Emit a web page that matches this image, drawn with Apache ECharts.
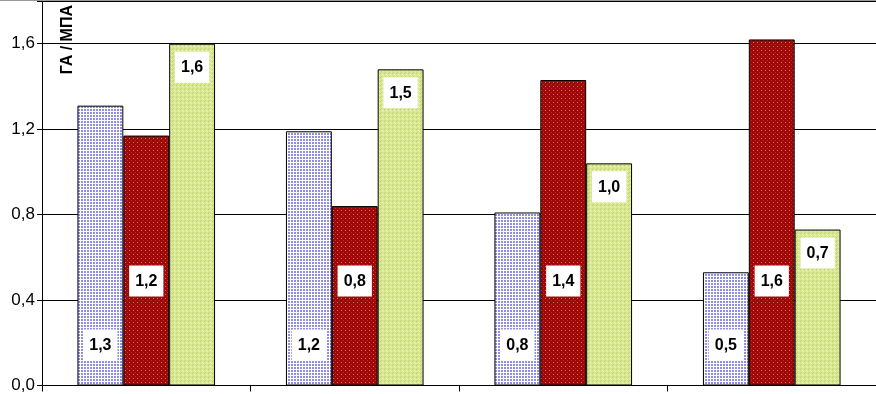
<!DOCTYPE html>
<html>
<head>
<meta charset="utf-8">
<script src="https://cdn.jsdelivr.net/npm/echarts@6/dist/echarts.min.js"></script>
<style>
    html, body { margin: 0; padding: 0; background: #fff; }
    #main { width: 876px; height: 394px; border-top: 1px solid #999; box-sizing: border-box; }
</style>
</head>
<body>
<div id="main"></div>
<script>
// данные
var categories = ['1', '2', '3', '4']
var seriesA = [1.31, 1.19, 0.81, 0.53]   // синие (клетка)
var seriesB = [1.17, 0.84, 1.43, 1.62]   // красные
var seriesC = [1.60, 1.48, 1.04, 0.73]   // салатовые
var yTicks = { min: 0, max: 1.8, interval: 0.4 }

/* маленькие плитки-заливки как в Excel */
function makeTile (size, bg, dots) {
    var c = document.createElement('canvas')
    c.width = size
    c.height = size
    var ctx = c.getContext('2d')
    ctx.fillStyle = bg
    ctx.fillRect(0, 0, size, size)
    for (var i = 0; i < dots.length; i++) {
        ctx.fillStyle = dots[i][2]
        ctx.fillRect(dots[i][0], dots[i][1], dots[i][3] || 1, dots[i][3] || 1)
    }
    return { image: c, repeat: 'repeat' }
}

var blueFill = makeTile(3, '#ffffff', [[0, 0, '#8e8ee8', 2]])
var redFill = makeTile(4, '#a00808', [[1, 1, '#d07070'], [3, 3, '#b42c2c']])
var greenFill = makeTile(4, '#d8e890', [[0, 0, '#b8cc68'], [2, 1, '#eef5c4'], [1, 3, '#c4d678'], [3, 2, '#e6f0b0']])

function fmt (p) {
    return p.value.toFixed(1).replace('.', ',')
}

function makeLabel (pos, dist) {
    return {
        show: true,
        position: pos,
        distance: dist,
        formatter: fmt,
        color: '#000',
        fontFamily: 'Liberation Sans, Arial',
        fontWeight: 'bold',
        fontSize: 16,
        backgroundColor: '#fff',
        padding: [8, 6, 7, 6]
    }
}

var myChart = echarts.init(document.getElementById('main'), null, { renderer: 'canvas' })

var option = {
    animation: false,
    grid: { left: 42, right: -4, top: -1, bottom: 7, containLabel: false },
    graphic: [{
        type: 'text',
        left: 60,
        top: 4,
        rotation: Math.PI / 2,
        style: {
            text: 'ГА / МПА',
            fill: '#000',
            font: 'bold 16px "Liberation Sans", Arial'
        }
    }],
    xAxis: {
        type: 'category',
        data: categories,
        axisLine: { lineStyle: { color: '#000', width: 1 } },
        axisTick: { show: true, length: 6, lineStyle: { color: '#000' } },
        axisLabel: { show: false },
        splitLine: { show: false }
    },
    yAxis: {
        type: 'value',
        min: yTicks.min,
        max: yTicks.max,
        interval: yTicks.interval,
        axisLine: { show: true, lineStyle: { color: '#000', width: 1 } },
        axisTick: { show: true, length: 5, lineStyle: { color: '#000' } },
        axisLabel: {
            margin: 7,
            color: '#000',
            fontFamily: 'Liberation Sans, Arial',
            fontSize: 17,
            formatter: function (v) {
                if (v > 1.7) return ''
                return v.toFixed(1).replace('.', ',')
            }
        },
        splitLine: { show: true, lineStyle: { color: '#000', width: 1 } }
    },
    series: [{
        type: 'bar',
        data: seriesA,
        barGap: '0%',
        barCategoryGap: '34%',
        itemStyle: { color: blueFill, borderColor: '#000', borderWidth: 1 },
        label: makeLabel('insideBottom', 25)
    }, {
        type: 'bar',
        data: seriesB,
        barGap: '0%',
        barCategoryGap: '34%',
        itemStyle: { color: redFill, borderColor: '#000', borderWidth: 1 },
        label: makeLabel('insideBottom', 89)
    }, {
        type: 'bar',
        data: seriesC,
        barGap: '0%',
        barCategoryGap: '34%',
        itemStyle: { color: greenFill, borderColor: '#000', borderWidth: 1 },
        label: makeLabel('insideTop', 8)
    }]
}

myChart.setOption(option)
window.onresize = myChart.resize
</script>
</body>
</html>
